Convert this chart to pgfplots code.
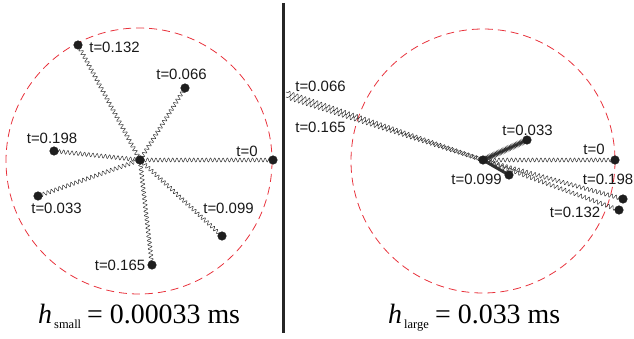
\documentclass[border=0pt]{standalone}
\usepackage{fontspec}
\setmainfont{Liberation Sans}
\newfontfamily\serif{Liberation Serif}
\usepackage{pgfplots}
\pgfplotsset{compat=1.18}
\usetikzlibrary{decorations.pathmorphing}
\definecolor{circred}{HTML}{E8323C}
\definecolor{dotc}{HTML}{1E1E1E}
\definecolor{springc}{HTML}{303030}
\tikzset{
  spring/.style={springc, line width=0.5pt, decorate,
     decoration={snake, amplitude=2bp, segment length=4.2bp, pre length=2bp, post length=2bp}},
  lab/.style={font=\fontsize{15}{15}\selectfont, inner sep=0pt, text=black!90},
  capbig/.style={anchor=base west, inner sep=0pt, font=\serif\fontsize{28}{28}\selectfont},
  capsub/.style={anchor=base west, inner sep=0pt, font=\serif\fontsize{12.5}{12.5}\selectfont},
}
\begin{document}
\begin{tikzpicture}
\begin{axis}[
  hide axis, scale only axis, width=634bp, height=339bp,
  xmin=0, xmax=634, ymin=0, ymax=339, y dir=reverse, clip=false,
  every axis plot/.append style={no marks},
]
\path (axis cs:0,0) rectangle (axis cs:634,339);
% circles
\draw[circred, line width=0.8pt, dash pattern=on 8bp off 5bp] (axis cs:139,161) circle[radius=133];
\draw[circred, line width=0.8pt, dash pattern=on 8bp off 5bp] (axis cs:483,161) circle[radius=132];
% divider
\draw[black!85, line width=2.8bp] (axis cs:283.5,3) -- (axis cs:283.5,333);
% ---- left panel springs (h small)
\addplot[spring] coordinates {(140,160) (273,160)};
\addplot[spring] coordinates {(140,160) (78,45)};
\addplot[spring] coordinates {(140,160) (185,88)};
\addplot[spring] coordinates {(140,160) (54,151)};
\addplot[spring] coordinates {(140,160) (38,196)};
\addplot[spring] coordinates {(140,160) (222,236)};
\addplot[spring] coordinates {(140,160) (152,265)};
\addplot[only marks, mark=*, mark size=4.3bp, dotc] coordinates {
 (140,160) (273,160) (78,45) (185,88) (54,151) (38,196) (222,236) (152,265)};
% ---- right panel springs (h large)
\addplot[spring] coordinates {(483,160) (615,160)};
\addplot[spring] coordinates {(286,92) (483,160)};
\addplot[spring] coordinates {(286,97) (483,160)};
\addplot[spring] coordinates {(483,160) (623,199)};
\addplot[spring] coordinates {(483,160) (619,210)};
\addplot[springc, line width=0.5pt, decorate, decoration={snake, amplitude=2.4bp, segment length=1.4bp}] coordinates {(483,160) (527,140)};
\addplot[springc, line width=0.8pt, decorate, decoration={snake, amplitude=1.5bp, segment length=0.6bp}] coordinates {(483,160) (509,175)};
\addplot[only marks, mark=*, mark size=4.3bp, dotc] coordinates {
 (483,160) (615,160) (527,140) (509,175) (623,199) (619,210)};
% ---- labels left
\node[lab] at (axis cs:114.5,47) {t=0.132};
\node[lab] at (axis cs:181.5,74) {t=0.066};
\node[lab] at (axis cs:52,138) {t=0.198};
\node[lab] at (axis cs:247,151) {t=0};
\node[lab] at (axis cs:56.5,208) {t=0.033};
\node[lab] at (axis cs:228.5,208) {t=0.099};
\node[lab] at (axis cs:120,265) {t=0.165};
% ---- labels right
\node[lab] at (axis cs:320.5,86) {t=0.066};
\node[lab] at (axis cs:320.5,127) {t=0.165};
\node[lab] at (axis cs:527.5,130) {t=0.033};
\node[lab] at (axis cs:594,149) {t=0};
\node[lab] at (axis cs:476.5,179) {t=0.099};
\node[lab] at (axis cs:608,179) {t=0.198};
\node[lab] at (axis cs:575,212) {t=0.132};
% ---- bottom captions
\node[capbig] at (axis cs:38,323) {\textit{h}};
\node[capsub] at (axis cs:54,328) {small};
\node[capbig] at (axis cs:87,323) {= 0.00033 ms};
\node[capbig] at (axis cs:388,323) {\textit{h}};
\node[capsub] at (axis cs:404,328) {large};
\node[capbig] at (axis cs:435,323) {= 0.033 ms};
\end{axis}
\end{tikzpicture}
\end{document}
